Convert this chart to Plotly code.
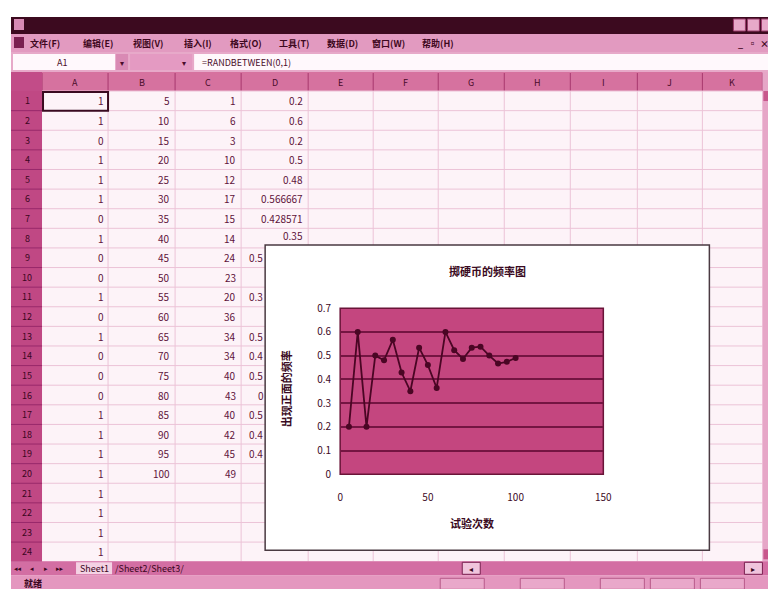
import plotly.graph_objects as go

W, H = 776, 589

# ---------------- data ----------------
trials = [5, 10, 15, 20, 25, 30, 35, 40, 45, 50, 55, 60, 65, 70, 75, 80, 85, 90, 95, 100]
heads_freq = [0.2, 0.6, 0.2, 0.5, 0.48, 0.566667, 0.428571, 0.35, 0.533333, 0.46,
              0.363636, 0.6, 0.523077, 0.485714, 0.533333, 0.5375, 0.5, 0.466667, 0.473684, 0.49]
coin_col = [1, 1, 0, 1, 1, 1, 0, 1, 0, 0, 1, 0, 1, 0, 0, 0, 1, 1, 1, 1, 1, 1, 1, 1]
heads_count = [1, 6, 3, 10, 12, 17, 15, 14, 24, 23, 20, 36, 34, 34, 40, 43, 40, 42, 45, 49]
# column D as it is visible (rows 9+ are partly hidden behind the chart)
d_full = ["0.2", "0.6", "0.2", "0.5", "0.48", "0.566667", "0.428571", "0.35"]
d_clipped = ["0.5", "", "0.3", "", "0.5", "0.4", "0.5", "0", "0.5", "0.4", "0.4"]
col_letters = ["A", "B", "C", "D", "E", "F", "G", "H", "I", "J", "K"]
menu_items = ["文件(F)", "编辑(E)", "视图(V)", "插入(I)", "格式(O)", "工具(T)", "数据(D)", "窗口(W)", "帮助(H)"]
x_ticks = [0, 50, 100, 150]
chart_title = "掷硬币的频率图"
x_title = "试验次数"
y_title = "出现正面的频率"

# ---------------- helpers ----------------
# the page shows the figure slightly shifted / scaled; positions below are
# given in target-picture pixels and mapped back into figure space
OX, SX, OY, SY = 11.0, 0.984, 16.0, 0.974


def fx(p):
    return max(0.0, (p - OX) / SX)


def fy(p):
    return max(0.0, (p - OY) / SY)


def X(p):
    return fx(p) / W


def Y(p):
    return 1 - fy(p) / H


shapes = []
ann = []


def rect(x0, y0, x1, y1, fill, line=None, lw=0):
    shapes.append(dict(type="rect", xref="paper", yref="paper",
                       x0=X(x0), x1=X(x1), y0=Y(y1), y1=Y(y0),
                       fillcolor=fill, line=dict(color=line or fill, width=lw), layer="below"))


def hline(x0, x1, y, color, w=1):
    shapes.append(dict(type="line", xref="paper", yref="paper", x0=X(x0), x1=X(x1),
                       y0=Y(y), y1=Y(y), line=dict(color=color, width=w), layer="below"))


def vline(x, y0, y1, color, w=1):
    shapes.append(dict(type="line", xref="paper", yref="paper", x0=X(x), x1=X(x),
                       y0=Y(y0), y1=Y(y1), line=dict(color=color, width=w), layer="below"))


FONT = "Noto Sans CJK SC, DejaVu Sans, sans-serif"
TXT = "#5e123a"


def txt(x, y, s, size=10, color=TXT, xanchor="center", angle=0, bold=False):
    if s == "":
        return
    ann.append(dict(xref="paper", yref="paper", x=X(x), y=Y(y), text=("<b>%s</b>" % s) if bold else s,
                    showarrow=False, xanchor=xanchor, yanchor="middle", textangle=angle,
                    font=dict(family=FONT, size=size, color=color)))


# ---------------- window chrome ----------------
rect(11, 15, 776, 589, "#f7dcea")
# title bar
rect(11, 15, 776, 33, "#3c0a1f")
rect(14, 18, 24, 29, "#d88ab4")
for bx in (733, 747, 761):
    rect(bx, 18, bx + 12, 30, "#e7a9c9", "#9a3a6a", 1)
# menu bar
rect(11, 33, 776, 51, "#e29ac0")
rect(14, 36, 24, 47, "#7a2050")
mx = [45, 98, 148, 198, 246, 294, 342, 388, 438]
for m, x in zip(menu_items, mx):
    txt(x, 42, m, size=9, color="#3e0820", bold=True)
for bx, s in zip((740, 752, 764), ("_", "▫", "×")):
    txt(bx, 42, s, size=9, color="#3e0820", bold=True)
# formula bar
rect(11, 51, 776, 71, "#e7a9c9")
rect(13, 53, 115, 69, "#fff8fc")
txt(62, 61, "A1", size=9, color="#4a0c2a")
rect(116, 53, 128, 69, "#d98ab4")
txt(122, 61, "▾", size=8, color="#4a0c2a")
rect(130, 53, 192, 69, "#e49ac2")
txt(184, 61, "▾", size=8, color="#4a0c2a")
rect(194, 53, 776, 69, "#fff8fc")
txt(200, 61, "=RANDBETWEEN(0,1)", size=9, color="#4a0c2a", xanchor="left")

# column header row
rect(11, 71, 776, 90, "#d6729f")
col_edges = [42, 108, 175, 241, 308, 373, 438, 504, 570, 637, 702, 762]
for i, L in enumerate(col_letters):
    cx = (col_edges[i] + col_edges[i + 1]) / 2
    txt(cx, 81, L, size=9, color="#4a0a2a")
for e in col_edges:
    vline(e, 72, 90, "#a8386e", 1)
rect(11, 71, 42, 90, "#c24c88")

# cell area
row_top = 90
row_h = 19.6
n_rows = 24
rect(42, row_top, 762, 560, "#fdf3f8")
for r in range(n_rows + 1):
    yy = row_top + r * row_h
    if yy <= 560:
        hline(42, 762, yy, "#ecc3d7", 1)
for e in col_edges[1:-1]:
    vline(e, row_top, 560, "#ecc3d7", 1)
# row header column
rect(11, row_top, 42, 560, "#c04884")
for r in range(n_rows):
    yc = row_top + r * row_h + row_h / 2
    hline(11, 42, row_top + (r + 1) * row_h, "#98286a", 1)
    txt(27, yc, str(r + 1), size=9, color="#3a0620")

# selected cell A1
rect(43, row_top + 1, 108, row_top + row_h, "rgba(0,0,0,0)", "#3a0a20", 2)

# cell values
for r, v in enumerate(coin_col):
    txt(106, row_top + r * row_h + row_h / 2, str(v), xanchor="right")
for r, v in enumerate(trials):
    txt(172, row_top + r * row_h + row_h / 2, str(v), xanchor="right")
for r, v in enumerate(heads_count):
    txt(238, row_top + r * row_h + row_h / 2, str(v), xanchor="right")
for r, v in enumerate(d_full):
    yy = row_top + r * row_h + row_h / 2
    if r == 7:
        yy -= 3
    txt(305, yy, v, xanchor="right")
for k, v in enumerate(d_clipped):
    r = 8 + k
    txt(247 if v != "0" else 256, row_top + r * row_h + row_h / 2, v, xanchor="left")

# right scroll bar
rect(762, 71, 776, 560, "#e6a6c7")
rect(763, 90, 775, 100, "#c8578c")
rect(763, 548, 775, 558, "#c8578c")

# bottom tab bar / horizontal scroll
rect(11, 560, 776, 574, "#d36ea3")
for i, s in enumerate(["◂◂", "◂", "▸", "▸▸"]):
    txt(18 + i * 14, 567, s, size=7, color="#3a0620")
rect(76, 561, 112, 573, "#f4d2e4")
txt(94, 567, "Sheet1", size=9, color="#3a0620")
txt(113, 567, "/Sheet2/Sheet3/", size=9, color="#3a0620", xanchor="left")
rect(462, 561, 480, 573, "#f0c4dc", "#7a2050", 1)
txt(471, 567, "◂", size=8, color="#3a0620")
rect(744, 561, 762, 573, "#f0c4dc", "#7a2050", 1)
txt(753, 567, "▸", size=8, color="#3a0620")
# status bar
rect(11, 574, 776, 589, "#e497bf")
txt(33, 582, "就绪", size=9, color="#3a0620", bold=True)
for bx in (440, 520, 600, 650, 700):
    rect(bx, 577, bx + 44, 588, "#e9a8ca", "#b85a8a", 1)

# ---------------- embedded chart ----------------
CX0, CY0, CX1, CY1 = 265, 244, 709, 549
rect(CX0, CY0, CX1, CY1, "#ffffff", "#4a3a42", 1.5)
PX0, PY0, PX1, PY1 = 340, 307, 603, 473
rect(PX0, PY0, PX1, PY1, "#c4467f", "#6a1438", 1.5)

txt((CX0 + CX1) / 2, 270, chart_title, size=11, color="#3a0a22", bold=True)
txt((PX0 + PX1) / 2, 522, x_title, size=11, color="#3a0a22", bold=True)
txt(286, 388, y_title, size=11, color="#3a0a22", angle=-90, bold=True)

fig = go.Figure()
fig.add_trace(go.Scatter(
    x=trials, y=heads_freq, mode="lines+markers",
    line=dict(color="#4a0624", width=1.8),
    marker=dict(color="#4a0624", size=6, symbol="circle"),
    hoverinfo="skip", showlegend=False,
))

fig.update_layout(
    width=W, height=H,
    margin=dict(l=0, r=0, t=0, b=0),
    paper_bgcolor="#ffffff",
    plot_bgcolor="rgba(0,0,0,0)",
    shapes=shapes,
    annotations=ann,
    showlegend=False,
    xaxis=dict(domain=[X(PX0), X(PX1)], range=[0, 150], tickvals=x_ticks,
               showgrid=False, zeroline=False, showline=False, ticks="",
               ticklabelstandoff=16,
               tickfont=dict(family=FONT, size=10, color="#3e0a26"), fixedrange=True),
    yaxis=dict(domain=[Y(PY1), Y(PY0)], range=[0, 0.7], dtick=0.1,
               showgrid=True, gridcolor="#741542", gridwidth=2.4,
               zeroline=False, showline=False, ticks="",
               ticklabelstandoff=8,
               tickfont=dict(family=FONT, size=10, color="#3e0a26"), fixedrange=True),
)

fig.write_html("out.html")
